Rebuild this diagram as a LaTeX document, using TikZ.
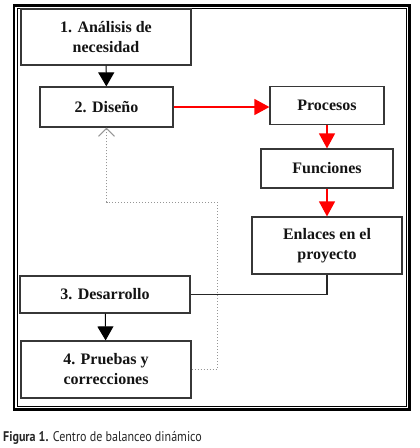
\documentclass[tikz,border=0pt]{standalone}
\usepackage{fontspec}
\setmainfont{Liberation Serif}
\newfontfamily\capfont[FakeStretch=0.86]{PT Sans}
\usetikzlibrary{arrows.meta,positioning}
\definecolor{ink}{RGB}{20,20,20}
\definecolor{edge}{RGB}{55,55,55}
\definecolor{flow}{RGB}{255,0,0}
\definecolor{back}{RGB}{150,150,150}
\tikzset{
  stage/.style={draw=edge,line width=1.2pt,fill=white,text=ink,align=center,inner sep=0pt,
    font=\bfseries\fontsize{16}{20}\selectfont},
  downarr/.style={-{Triangle[length=14pt,width=16pt]},line width=1pt,color=black},
  redarr/.style={-{Triangle[length=15pt,width=16pt,fill=flow]},line width=1.3pt,draw=flow},
  linkline/.style={line width=1.8pt,color=black!85},
  retline/.style={dotted,line width=1pt,color=back,-{Straight Barb[length=8pt,width=16pt]}},
  figcap/.style={font=\capfont\fontsize{14}{16}\selectfont,anchor=base west,inner sep=0pt,text=black!85}
}
\begin{document}
\begin{tikzpicture}[x=1pt,y=-1pt]
  \useasboundingbox (0,0) rectangle (420,448);
  \draw[line width=2.4pt] (14,5.5) rectangle (409.5,409.5);
  \draw[line width=1pt] (17.5,8.5) rectangle (406.5,406);

  \node[stage,minimum width=170pt,minimum height=56pt] (ana) at (106,37) {1. Análisis de\\necesidad};
  \node[stage,minimum width=133pt,minimum height=40pt] (dis) at (106.5,107) {2. Diseño};
  \node[stage,minimum width=114pt,minimum height=38pt] (pro) at (327,105.5) {Procesos};
  \node[stage,minimum width=132pt,minimum height=39pt] (fun) at (327,168.5) {Funciones};
  \node[stage,minimum width=150pt,minimum height=57pt] (enl) at (327,245.5) {Enlaces en el\\proyecto};
  \node[stage,minimum width=170pt,minimum height=37pt] (des) at (105,294.5) {3. Desarrollo};
  \node[stage,minimum width=170pt,minimum height=57pt] (pru) at (106,369.5) {4. Pruebas y\\correcciones};
  \coordinate (ret) at (217,202);

  \draw[downarr] (ana) -- (dis);
  \draw[downarr] (des) -- (pru);
  \draw[redarr] (dis.east) -- (dis.east -| pro.west);
  \draw[redarr] (pro) -- (fun);
  \draw[redarr] (fun) -- (enl);
  \draw[linkline] (enl.south) |- (des.east);
  \draw[retline] (pru.east) -| (ret) -| (dis.south);

  \node[figcap] (fig) at (3,441) {\textbf{Figura 1.} Centro de balanceo dinámico};
\end{tikzpicture}
\end{document}
